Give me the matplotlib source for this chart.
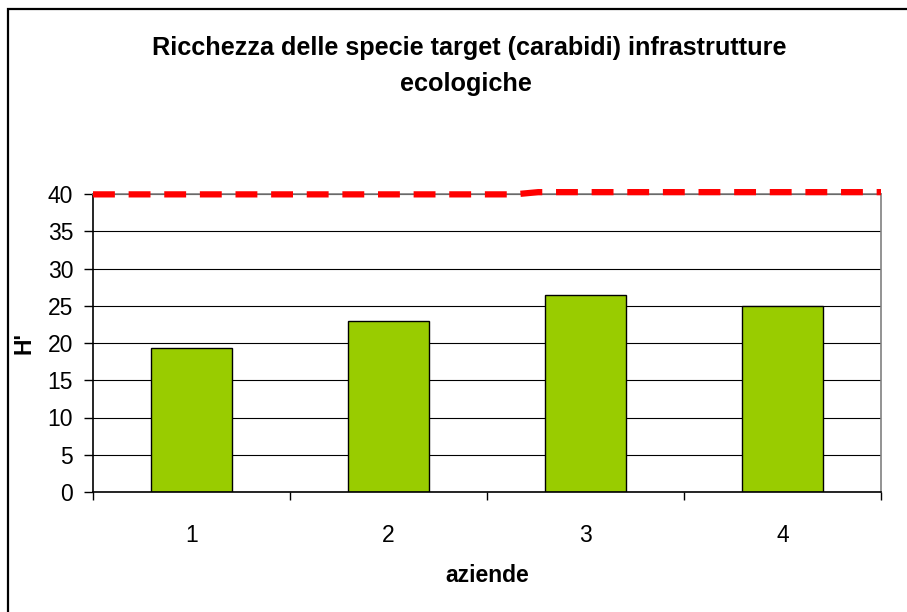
import matplotlib
matplotlib.use("Agg")
import matplotlib.pyplot as plt
from matplotlib.patches import Rectangle

# ---- data ----
categories = ["1", "2", "3", "4"]
values = [19.3, 23.0, 26.4, 25.0]
line_x = [0.5, 2.64, 2.76, 4.5]
line_y = [39.95, 39.95, 40.25, 40.25]
y_ticks = [0, 5, 10, 15, 20, 25, 30, 35, 40]
title_lines = ["Ricchezza delle specie target (carabidi) infrastrutture", "ecologiche"]
xlabel = "aziende"
ylabel = "H'"

plt.rcParams['font.family'] = ['Liberation Sans', 'DejaVu Sans']

W, H = 907, 612
fig = plt.figure(figsize=(W / 100, H / 100), dpi=100)
fig.patch.set_facecolor("white")

# outer chart border (left/top visible)
fig.patches.append(Rectangle((8 / W, -0.2), 1.2, 1.2 - 9 / H, transform=fig.transFigure,
                             fill=False, edgecolor="black", linewidth=1.6, clip_on=False))

left, right, top, bottom = 93, 881, 194, 492
ax = fig.add_axes([left / W, 1 - bottom / H, (right - left) / W, (bottom - top) / H])

xpos = list(range(1, len(categories) + 1))
ax.set_ylim(0, 40)
ax.set_xlim(0.5, len(categories) + 0.5)

ax.set_yticks(y_ticks)
ax.yaxis.grid(True, color="black", linewidth=0.8)
ax.set_axisbelow(True)

ax.bar(xpos, values, width=0.41, color="#99CC00", edgecolor="black", linewidth=1.0, zorder=2)

ax.plot(line_x, line_y, color="#FF0000", linewidth=4.5, linestyle=(0, (3.5, 2.2)),
        dash_capstyle="butt", solid_capstyle="butt", clip_on=False, zorder=4)

# ticks: major at category boundaries, labels at centers (minor)
ax.set_xticks([i + 0.5 for i in range(len(categories) + 1)])
ax.set_xticklabels([])
ax.set_xticks(xpos, minor=True)
ax.set_xticklabels(categories, minor=True)
ax.tick_params(axis="x", which="major", direction="out", length=6, width=1, color="black")
ax.tick_params(axis="x", which="minor", length=0, pad=23, labelsize=16.5)
ax.tick_params(axis="y", direction="out", length=6.3, width=1, color="black", pad=8, labelsize=16.5)

for s in ["top", "right"]:
    ax.spines[s].set_color("#808080")
    ax.spines[s].set_linewidth(1.2)
for s in ["left", "bottom"]:
    ax.spines[s].set_color("black")
    ax.spines[s].set_linewidth(1.2)

fig.text(469 / W, 1 - 54.5 / H, title_lines[0], ha="center", va="baseline", fontsize=18.2,
         fontweight="bold")
fig.text(466 / W, 1 - 91 / H, title_lines[1], ha="center", va="baseline", fontsize=18.2,
         fontweight="bold")
fig.text(487 / W, 1 - 575 / H, xlabel, ha="center", va="center", fontsize=16.5, fontweight="bold")
fig.text(24 / W, 1 - 343 / H, ylabel, ha="center", va="center", fontsize=16.5,
         fontweight="bold", rotation=90)

fig.savefig("out.png", dpi=100, facecolor="white")
